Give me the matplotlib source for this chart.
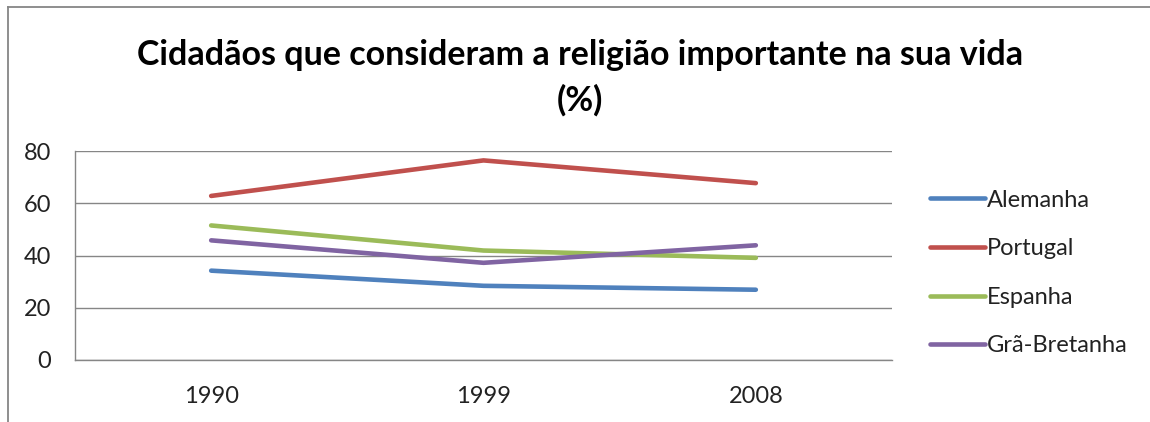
import matplotlib
matplotlib.use('Agg')
import matplotlib.pyplot as plt
from matplotlib.lines import Line2D

# Data
anos = ['1990', '1999', '2008']
alemanha = [34.2, 28.4, 26.9]
portugal = [62.8, 76.4, 67.7]
espanha = [51.5, 41.9, 39.1]
gra_bretanha = [45.8, 37.2, 43.9]

series = [('Alemanha', alemanha, '#4F81BD'),
          ('Portugal', portugal, '#C0504D'),
          ('Espanha', espanha, '#9BBB59'),
          ('Grã-Bretanha', gra_bretanha, '#8064A2')]

plt.rcParams['font.family'] = ['Lato', 'DejaVu Sans']

W, H = 1150, 422
fig = plt.figure(figsize=(W / 100, H / 100), dpi=100)

# chart area border (only left and top visible in the crop)
grey = '#868686'
fig.add_artist(Line2D([7.5 / W, 7.5 / W], [0, 1 - 7 / H], color=grey, lw=1.3))
fig.add_artist(Line2D([7.5 / W, 1], [1 - 7 / H, 1 - 7 / H], color=grey, lw=1.3))

fig.text(580 / W, 1 - 55 / H, 'Cidadãos que consideram a religião importante na sua vida',
         ha='center', va='center', fontsize=24.5, fontweight='bold')
fig.text(580 / W, 1 - 100 / H, '(%)', ha='center', va='center',
         fontsize=24.5, fontweight='bold')

ax = fig.add_axes([75 / W, (H - 360) / H, 817 / W, 209 / H])
x = range(len(anos))
for name, vals, col in series:
    ax.plot(x, vals, color=col, lw=3.3, label=name, solid_capstyle='round')

ax.set_xlim(-0.5, len(anos) - 0.5)
ax.set_ylim(0, 80)
ax.set_yticks([0, 20, 40, 60, 80])
ax.set_xticks(list(x))
ax.set_xticklabels(anos)
ax.yaxis.grid(True, color=grey, lw=1)
ax.set_axisbelow(True)
for s in ['top', 'right']:
    ax.spines[s].set_visible(False)
for s in ['left', 'bottom']:
    ax.spines[s].set_color(grey)
    ax.spines[s].set_linewidth(1)
ax.tick_params(length=0, labelsize=17, colors='#222222')
ax.tick_params(axis='y', pad=17)
ax.tick_params(axis='x', pad=19)

leg = fig.legend(loc='center left', bbox_to_anchor=(909 / W, 1 - 273 / H), frameon=False,
                 fontsize=17, handlelength=2.3, handletextpad=0.1, labelspacing=1.17)
for t in leg.get_texts():
    t.set_color('#222222')

fig.savefig('out.png', dpi=100)
